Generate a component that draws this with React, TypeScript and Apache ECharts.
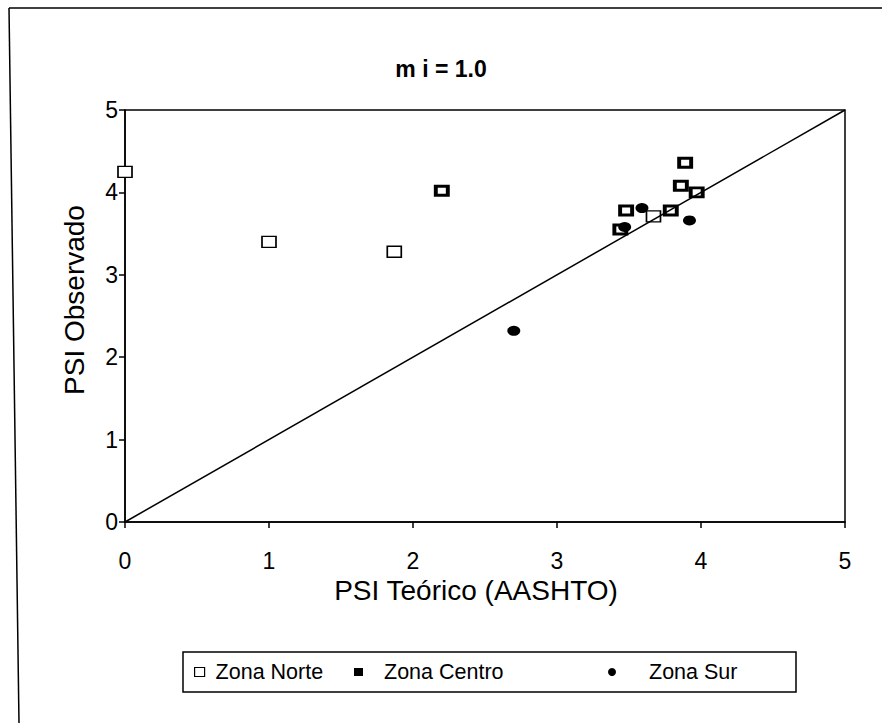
import React, { useEffect, useRef } from "react";
import * as echarts from "echarts";

const titleText = "m i = 1.0";
const xAxisName = "PSI Teórico (AASHTO)";
const yAxisName = "PSI Observado";
const seriesNames = ["Zona Norte", "Zona Centro", "Zona Sur"];

const zonaNorte: number[][] = [
  [0.0, 4.25],
  [1.0, 3.4],
  [1.87, 3.28],
  [3.67, 3.71],
];
const zonaCentro: number[][] = [
  [2.2, 4.02],
  [3.89, 4.36],
  [3.86, 4.08],
  [3.97, 4.0],
  [3.48, 3.78],
  [3.79, 3.78],
  [3.44, 3.55],
];
const zonaSur: number[][] = [
  [2.7, 2.32],
  [3.59, 3.81],
  [3.92, 3.66],
  [3.47, 3.58],
];
const igualdad: number[][] = [
  [0, 0],
  [5, 5],
];

const FONT = "'Liberation Sans', Arial, sans-serif";

export default function App() {
  const ref = useRef<HTMLDivElement>(null);
  useEffect(() => {
    document.body.style.margin = "0";
    if (!ref.current) return;
    const chart = echarts.init(ref.current, null, { renderer: "svg" });
    const legendText = { fontFamily: FONT, fontSize: 21.5, color: "#000" };
    chart.setOption({
      animation: false,
      backgroundColor: "#fff",
      title: {
        text: titleText,
        left: "center",
        top: 52,
        textStyle: { fontFamily: FONT, fontSize: 23, fontWeight: "bold", color: "#000" },
      },
      grid: {
        left: 125,
        top: 110,
        right: 37,
        bottom: 201,
        show: true,
        borderColor: "#000",
        borderWidth: 1.5,
        backgroundColor: "transparent",
      },
      xAxis: {
        type: "value",
        min: 0,
        max: 5,
        interval: 1,
        name: xAxisName,
        nameLocation: "middle",
        nameGap: 45,
        nameTextStyle: { fontFamily: FONT, fontSize: 28, color: "#000", padding: [0, 18, 0, 0] },
        axisLine: { onZero: false, lineStyle: { color: "#000", width: 1.5 } },
        axisTick: { show: true, length: 6, lineStyle: { color: "#000", width: 1.5 } },
        axisLabel: { fontFamily: FONT, fontSize: 23, color: "#000", margin: 27 },
        splitLine: { show: false },
      },
      yAxis: {
        type: "value",
        min: 0,
        max: 5,
        interval: 1,
        name: yAxisName,
        nameLocation: "middle",
        nameGap: 37,
        nameTextStyle: { fontFamily: FONT, fontSize: 28, color: "#000", padding: [0, 0, 0, 32] },
        axisLine: { onZero: false, lineStyle: { color: "#000", width: 1.5 } },
        axisTick: { show: true, length: 6, lineStyle: { color: "#000", width: 1.5 } },
        axisLabel: { fontFamily: FONT, fontSize: 23, color: "#000", margin: 7 },
        splitLine: { show: false },
      },
      legend: [
        {
          left: 189,
          top: 656,
          itemWidth: 10,
          itemHeight: 9,
          itemGap: 0,
          textStyle: { ...legendText, padding: [0, 0, 0, 6] },
          data: [
            {
              name: seriesNames[0],
              icon: "rect",
              itemStyle: { color: "#fff", borderColor: "#000", borderWidth: 1.2 },
            },
          ],
        },
        {
          left: 349,
          top: 656,
          itemWidth: 9,
          itemHeight: 8,
          textStyle: { ...legendText, padding: [0, 0, 0, 16] },
          data: [
            {
              name: seriesNames[1],
              icon: "rect",
              itemStyle: { color: "#000", borderColor: "#000", borderWidth: 0 },
            },
          ],
        },
        {
          left: 603,
          top: 656,
          itemWidth: 8,
          itemHeight: 8,
          textStyle: { ...legendText, padding: [0, 0, 0, 28] },
          data: [
            {
              name: seriesNames[2],
              icon: "circle",
              itemStyle: { color: "#000", borderWidth: 0 },
            },
          ],
        },
      ],
      graphic: [
        {
          type: "rect",
          shape: { x: 183, y: 652, width: 613, height: 40 },
          style: { fill: "none", stroke: "#000", lineWidth: 1.5 },
          z: -1,
        },
        {
          type: "line",
          shape: { x1: 9, y1: 8, x2: 882, y2: 8 },
          style: { stroke: "#000", lineWidth: 1.5 },
        },
        {
          type: "line",
          shape: { x1: 9, y1: 8, x2: 19, y2: 723 },
          style: { stroke: "#000", lineWidth: 1.5 },
        },
      ],
      series: [
        {
          name: seriesNames[0],
          type: "scatter",
          data: zonaNorte,
          symbol: "rect",
          symbolSize: [14, 11],
          itemStyle: { color: "#fff", borderColor: "#000", borderWidth: 1.5, opacity: 1 },
          z: 3,
        },
        {
          name: seriesNames[1],
          type: "scatter",
          data: zonaCentro,
          symbol: "rect",
          symbolSize: [12, 9],
          itemStyle: { color: "#fff", borderColor: "#000", borderWidth: 3.4, opacity: 1 },
          z: 4,
        },
        {
          name: seriesNames[2],
          type: "scatter",
          data: zonaSur,
          symbol: "circle",
          symbolSize: [13, 10],
          itemStyle: { color: "#000", borderWidth: 0, opacity: 1 },
          z: 5,
        },
        {
          name: "Igualdad",
          type: "line",
          data: igualdad,
          symbol: "none",
          lineStyle: { color: "#000", width: 1.5 },
          z: 6,
        },
      ],
    });
    return () => chart.dispose();
  }, []);
  return <div ref={ref} style={{ width: 882, height: 723 }} />;
}
